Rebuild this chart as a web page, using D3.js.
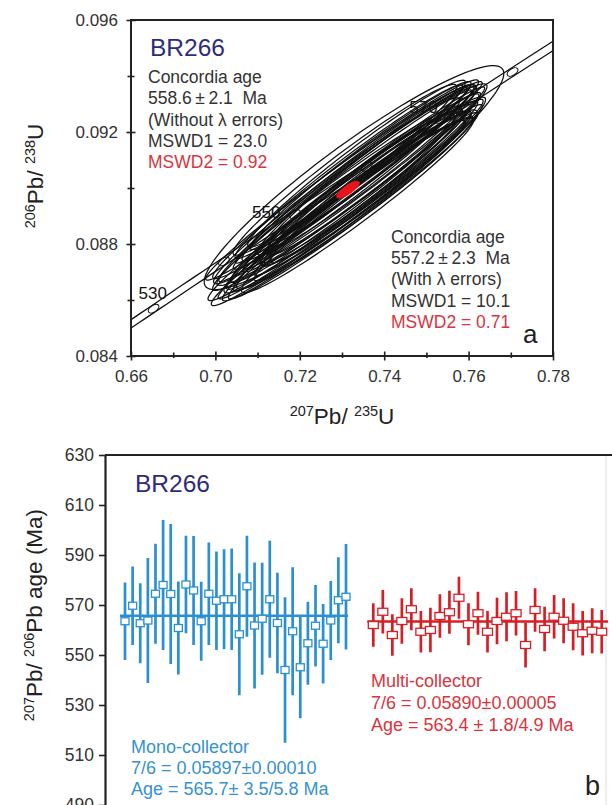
<!DOCTYPE html>
<html>
<head>
<meta charset="utf-8">
<script src="https://cdn.jsdelivr.net/npm/d3@7"></script>
<style>
  body { margin: 0; background: #fff; overflow: hidden; }
  text { font-family: "Liberation Sans", Arial, sans-serif; }
</style>
</head>
<body>
<div id="chart"></div>
<script>
// ---------- panel a : concordia ----------
const ellX   = [0.73284,0.73160,0.73381,0.73064,0.73589,0.73354,0.73163,0.73664,0.72867,0.73445,0.72885,0.73783,
                0.73237,0.73068,0.73206,0.73625,0.72874,0.73464,0.73080,0.73438,0.73367,0.73531,0.73041,0.73713,
                0.72902,0.73360,0.73086,0.73244,0.73344,0.73567,0.73371,0.73044,0.73825,0.73302,0.73257,0.72876];
const ellY   = [0.09037,0.08968,0.09055,0.08939,0.09061,0.08959,0.09058,0.09016,0.09016,0.09018,0.08964,0.09051,
                0.09012,0.09065,0.08929,0.08993,0.08936,0.09002,0.09008,0.09080,0.08938,0.09036,0.08968,0.09084,
                0.08912,0.08999,0.09031,0.08951,0.09087,0.08969,0.09045,0.08919,0.09025,0.08975,0.09050,0.08990];
const ellSX  = [0.0355,0.0290,0.0275,0.0300,0.0260,0.0285,0.0270,0.0255,0.0310,0.0280,0.0295,0.0250,
                0.0320,0.0265,0.0290,0.0270,0.0305,0.0240,0.0300,0.0262,0.0275,0.0285,0.0268,0.0245,
                0.0300,0.0230,0.0315,0.0282,0.0258,0.0265,0.0295,0.0288,0.0252,0.0310,0.0278,0.0292];
const ellSY  = [0.00400,0.00330,0.00315,0.00335,0.00300,0.00320,0.00310,0.00295,0.00345,0.00318,0.00330,0.00290,
                0.00360,0.00305,0.00325,0.00305,0.00338,0.00280,0.00342,0.00300,0.00312,0.00325,0.00305,0.00285,
                0.00332,0.00265,0.00355,0.00318,0.00298,0.00300,0.00335,0.00322,0.00292,0.00350,0.00318,0.00332];
const ellRho = [0.930,0.982,0.978,0.985,0.974,0.970,0.980,0.977,0.986,0.983,0.978,0.981,
                0.975,0.972,0.980,0.984,0.982,0.968,0.988,0.978,0.973,0.986,0.976,0.980,
                0.983,0.964,0.981,0.978,0.975,0.981,0.985,0.980,0.978,0.973,0.988,0.977];
const meanEllipse = [0.73142, 0.08994, 0.0027, 0.00030, 0.80]; // x, y, sx, sy, rho
const concordiaAges  = [530, 540, 550, 560, 570, 580];
const concordiaLabel = [530, 550, 570];
const xTicksA      = [0.68, 0.70, 0.72, 0.74, 0.76, 0.78];
const xTickLabelsA = ["0.66", "0.70", "0.72", "0.74", "0.76", "0.78"];
const xMinorA      = [0.69, 0.71, 0.73, 0.75, 0.77];
const yTicksA      = [0.084, 0.088, 0.092, 0.096];
const yMinorA      = [0.086, 0.090, 0.094];

// ---------- panel b : 207Pb/206Pb ages ----------
const monoAge = [563.5,569.7,562.7,563.8,574.5,578.0,574.4,560.8,578.2,575.8,563.5,574.5,571.7,572.3,572.3,
                 558.3,577.5,561.8,564.5,572.3,562.8,544.0,559.5,545.1,554.7,561.7,554.5,563.8,571.9,573.3];
const monoErr = [15.5,15.7,16.0,25.0,20.0,26.0,28.0,18.6,19.5,21.8,15.8,20.5,19.7,20.0,20.3,
                 24.4,20.2,25.2,22.4,23.4,20.1,29.1,25.6,20.4,16.6,16.3,15.9,15.8,17.2,21.1];
const multiAge = [562.0,567.3,558.0,563.6,568.3,559.3,560.0,565.6,567.1,572.9,562.3,566.7,559.3,
                  563.6,565.3,566.7,554.0,568.0,560.4,565.3,563.7,561.3,558.7,559.7,559.3];
const multiErr = [8.7,8.7,8.3,9.1,8.4,8.3,8.9,8.7,8.6,8.4,8.4,8.6,8.3,
                  9.3,9.8,8.9,9.0,8.7,8.9,8.7,9.0,9.4,8.9,9.0,8.7];
const monoMean = 565.7, multiMean = 563.4;
const yTicksB = [490, 510, 530, 550, 570, 590, 610, 630];

const l235 = 9.8485e-10, l238 = 1.55125e-10, lamErr = 0.0017;
const svg = d3.select("#chart").append("svg").attr("width", 612).attr("height", 805);
const font = '"Liberation Sans", Arial, sans-serif';

// ================= panel a =================
const xA = d3.scaleLinear().domain([0.68, 0.78]).range([131, 553]);
const yA = d3.scaleLinear().domain([0.084, 0.096]).range([356, 20]);

svg.append("clipPath").attr("id", "clipA").append("rect")
  .attr("x", 131).attr("y", 20).attr("width", 422).attr("height", 336);
const plotA = svg.append("g").attr("clip-path", "url(#clipA)");

// concordia with decay-constant envelope
const ages = d3.range(510, 600, 1);
[1 - lamErr, 1 + lamErr].forEach(f => {
  plotA.append("path")
    .datum(ages)
    .attr("fill", "none").attr("stroke", "#111").attr("stroke-width", 1.3)
    .attr("d", d3.line()
      .x(t => xA(Math.exp(l235 * f * t * 1e6) - 1))
      .y(t => yA(Math.exp(l238 * t * 1e6) - 1)));
});
concordiaAges.forEach(t => {
  const px = xA(Math.exp(l235 * t * 1e6) - 1), py = yA(Math.exp(l238 * t * 1e6) - 1);
  const px2 = xA(Math.exp(l235 * (t + 1) * 1e6) - 1), py2 = yA(Math.exp(l238 * (t + 1) * 1e6) - 1);
  const ang = Math.atan2(py2 - py, px2 - px) * 180 / Math.PI;
  plotA.append("ellipse")
    .attr("cx", 0).attr("cy", 0).attr("rx", 6).attr("ry", 3.3)
    .attr("transform", `translate(${px},${py}) rotate(${ang})`)
    .attr("fill", "#fff").attr("stroke", "#111").attr("stroke-width", 1.1);
});

// error ellipses
function ellipsePath(cx, cy, sx, sy, rho) {
  const th = d3.range(0, 2 * Math.PI, Math.PI / 60);
  const c = Math.sqrt(1 - rho * rho);
  return d3.line().curve(d3.curveLinearClosed)(th.map(a => [
    xA(cx + sx * Math.cos(a)),
    yA(cy + sy * (rho * Math.cos(a) + c * Math.sin(a)))
  ]));
}
ellX.forEach((d, i) => {
  plotA.append("path")
    .attr("d", ellipsePath(ellX[i], ellY[i], ellSX[i], ellSY[i], ellRho[i]))
    .attr("fill", "none").attr("stroke", "#111").attr("stroke-width", 1.25);
});
plotA.append("path")
  .attr("d", ellipsePath(...meanEllipse))
  .attr("fill", "#e8141c").attr("stroke", "#e8141c").attr("stroke-width", 1);

const labelPos = {530: [-15, -10], 550: [-43, 4], 570: [-30, -6]};
concordiaLabel.forEach(t => {
  const px = xA(Math.exp(l235 * t * 1e6) - 1), py = yA(Math.exp(l238 * t * 1e6) - 1);
  plotA.append("text").attr("x", px + labelPos[t][0]).attr("y", py + labelPos[t][1])
    .attr("font-size", 17).attr("fill", "#111").text(t);
});

// frame and axes
svg.append("rect").attr("x", 131).attr("y", 20).attr("width", 422).attr("height", 336)
  .attr("fill", "none").attr("stroke", "#222").attr("stroke-width", 2);

const gxA = svg.append("g").attr("transform", "translate(0,356)")
  .call(d3.axisBottom(xA).tickValues(xTicksA).tickFormat((d, i) => xTickLabelsA[i]).tickSize(4.5).tickPadding(9.5));
const gxAm = svg.append("g").attr("transform", "translate(0,356)")
  .call(d3.axisBottom(xA).tickValues(xMinorA).tickFormat("").tickSize(2));
const gyA = svg.append("g").attr("transform", "translate(131,0)")
  .call(d3.axisLeft(yA).tickValues(yTicksA).tickFormat(d3.format(".3f")).tickSize(4.5).tickPadding(8.5));
const gyAm = svg.append("g").attr("transform", "translate(131,0)")
  .call(d3.axisLeft(yA).tickValues(yMinorA).tickFormat("").tickSize(3.5));
[gxA, gxAm, gyA, gyAm].forEach(g => {
  g.select(".domain").remove();
  g.attr("font-family", font).attr("font-size", 17);
  g.selectAll("text").attr("fill", "#333");
  g.selectAll(".tick line").attr("stroke", "#222").attr("stroke-width", 1.6);
});
gxA.selectAll(".tick line").attr("y1", -4.5);
gxAm.selectAll(".tick line").attr("y1", -3.5);
gyA.selectAll(".tick line").attr("x1", 4.5);
gyAm.selectAll(".tick line").attr("x1", 3.5);

// axis titles
function isoTitle(parts, x, y, rotate) {
  const t = svg.append("text")
    .attr("transform", `translate(${x},${y})` + (rotate ? " rotate(-90)" : ""))
    .attr("text-anchor", "middle").attr("fill", "#222");
  let sup = false;
  parts.forEach(p => {
    const isSup = /^\d+$/.test(p);
    t.append("tspan")
      .attr("font-size", isSup ? 14.5 : 22.5)
      .attr("dy", isSup === sup ? 0 : (isSup ? -8.5 : 8.5))
      .text(p);
    sup = isSup;
  });
}
isoTitle(["207", "Pb/ ", "235", "U"], 342, 424, false);
isoTitle(["206", "Pb/ ", "238", "U"], 43, 176, true);

// annotation (panel a)
svg.append("text").attr("x", 150).attr("y", 56).attr("font-size", 24.5).attr("fill", "#2f2b7c").text("BR266");
function block(x, y0, step, lines, colors, size) {
  lines.forEach((s, i) => {
    svg.append("text").attr("x", x).attr("y", y0 + i * step)
      .attr("font-size", size).attr("fill", colors[i]).style("white-space", "pre").text(s);
  });
}
const grey = "#333", red = "#d9343d";
block(148, 82.7, 21.4,
  ["Concordia age", "558.6\u2009±\u20092.1  Ma", "(Without λ errors)", "MSWD1 = 23.0", "MSWD2 = 0.92"],
  [grey, grey, grey, grey, red], 17.5);
block(391, 242.7, 21.3,
  ["Concordia age", "557.2\u2009±\u20092.3  Ma", "(With λ errors)", "MSWD1 = 10.1", "MSWD2 = 0.71"],
  [grey, grey, grey, grey, red], 17.5);
svg.append("text").attr("x", 523).attr("y", 343).attr("font-size", 26).attr("fill", "#222").text("a");

// ================= panel b =================
const yB = d3.scaleLinear().domain([490, 630]).range([805, 455]);
const xMono  = d3.scaleLinear().domain([1, monoAge.length]).range([125, 346]);
const xMulti = d3.scaleLinear().domain([1, multiAge.length]).range([373.3, 601.7]);
const blue = "#2b8fd3", redB = "#d81e24";

svg.append("line").attr("x1", 105).attr("x2", 612).attr("y1", 455).attr("y2", 455)
  .attr("stroke", "#222").attr("stroke-width", 2.2);
svg.append("line").attr("x1", 606).attr("x2", 606).attr("y1", 456).attr("y2", 805)
  .attr("stroke", "#ddd").attr("stroke-width", 1);

const gyB = svg.append("g").attr("transform", "translate(105,0)")
  .call(d3.axisLeft(yB).tickValues(yTicksB).tickSize(6).tickSizeOuter(0).tickPadding(5));
gyB.attr("font-family", font).attr("font-size", 17.5);
gyB.select(".domain").attr("stroke", "#222").attr("stroke-width", 2.2);
gyB.selectAll(".tick line").attr("stroke", "#222").attr("stroke-width", 1.6);
gyB.selectAll("text").attr("fill", "#333");

// mean lines
svg.append("line").attr("x1", xMono(1) - 5).attr("x2", xMono(monoAge.length) + 2)
  .attr("y1", yB(monoMean)).attr("y2", yB(monoMean)).attr("stroke", blue).attr("stroke-width", 2.4);
svg.append("line").attr("x1", xMulti(1) - 6).attr("x2", 608)
  .attr("y1", yB(multiMean)).attr("y2", yB(multiMean)).attr("stroke", redB).attr("stroke-width", 2.4);

function series(ages, errs, xs, color, w, h) {
  const g = svg.append("g");
  g.selectAll("line.err").data(ages).join("line")
    .attr("x1", (d, i) => xs(i + 1)).attr("x2", (d, i) => xs(i + 1))
    .attr("y1", (d, i) => yB(d + errs[i])).attr("y2", (d, i) => yB(d - errs[i]))
    .attr("stroke", color).attr("stroke-width", 2.7);
  g.selectAll("rect").data(ages).join("rect")
    .attr("x", (d, i) => xs(i + 1) - w / 2).attr("y", d => yB(d) - h / 2)
    .attr("width", w).attr("height", h)
    .attr("fill", "#fff").attr("stroke", color).attr("stroke-width", 1.3);
}
series(monoAge, monoErr, xMono, blue, 8, 7);
series(multiAge, multiErr, xMulti, redB, 10, 7);

isoTitle(["207", "Pb/ ", "206", "Pb age (Ma)"], 42, 615, true);

svg.append("text").attr("x", 135).attr("y", 492).attr("font-size", 24.5).attr("fill", "#2f2b7c").text("BR266");
block(131, 752.5, 21,
  ["Mono-collector", "7/6 = 0.05897±0.00010", "Age = 565.7± 3.5/5.8 Ma"],
  ["#3592d2", "#3592d2", "#3592d2"], 18);
block(371, 686.5, 22,
  ["Multi-collector", "7/6 = 0.05890±0.00005", "Age = 563.4 ± 1.8/4.9 Ma"],
  [red, red, red], 18);
svg.append("text").attr("x", 585).attr("y", 795).attr("font-size", 27).attr("fill", "#222").text("b");
</script>
</body>
</html>
